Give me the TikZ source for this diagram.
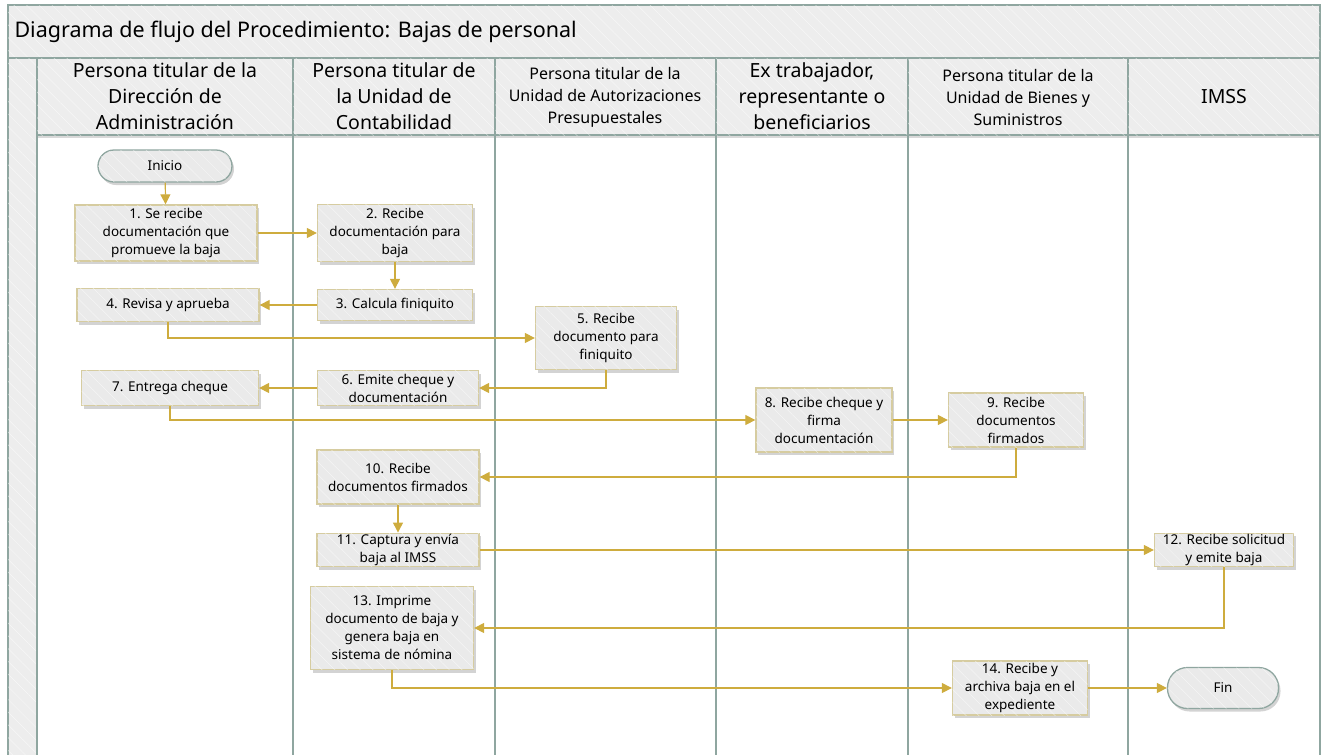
\documentclass[tikz,border=0pt]{standalone}
\usepackage{fontspec}
\setmainfont{Noto Sans}
\usetikzlibrary{shadows,arrows.meta,patterns.meta}

\definecolor{gold}{RGB}{206,172,62}
\definecolor{laneline}{RGB}{143,166,160}
\definecolor{boxfill}{RGB}{234,234,234}
\definecolor{boxline}{RGB}{214,204,160}
\definecolor{band}{RGB}{237,237,237}

\begin{document}
\begin{tikzpicture}[x=1pt,y=1pt,yscale=-1,xscale=1,
	hatch/.style={postaction={pattern={Lines[angle=-45,distance=9pt,line width=0.5pt]}, pattern color=white, opacity=0.55}},
	proc/.style={draw=boxline, line width=1.3pt, fill=boxfill, hatch, align=center, inner sep=1pt,
		font=\fontsize{13.5}{18}\selectfont,
		drop shadow={shadow xshift=2pt, shadow yshift=-3pt, opacity=0.35}},
	term/.style={proc, draw=laneline, rounded corners=16pt},
	head/.style={align=center, font=\fontsize{19.5}{26}\selectfont},
	headsmall/.style={align=center, font=\fontsize{16}{22}\selectfont},
	flow/.style={draw=gold, line width=1.2pt, -{Triangle[length=10pt,width=10pt]}}]

		% Set diagram size to the reference
		\useasboundingbox (0,0) rectangle (1323,755);

		% Title band
		\draw[laneline, line width=1.2pt, fill=band, hatch] (8,5) rectangle (1320,58);
		\node[anchor=west, font=\fontsize{21.5}{26}\selectfont] (titulo) at (11,32) {Diagrama de flujo del Procedimiento: Bajas de personal};

		% Left strip of the pool
		\draw[laneline, line width=1.2pt, fill=band, hatch] (8,58) rectangle (37,760);

		% Lane headers
		\foreach \xa/\xb in {37/293, 293/495, 495/716, 716/908, 908/1128, 1128/1320}{
			\draw[laneline, line width=1.2pt, fill=band, hatch, drop shadow={shadow xshift=0pt, shadow yshift=-3pt, opacity=0.3}] (\xa,58) rectangle (\xb,135);
			\draw[laneline, line width=1.2pt] (\xa,135) -- (\xa,760);
		}
		\draw[laneline, line width=1.2pt] (1320,58) -- (1320,760);

		% Lane names
		\node[head] (dir) at (165,96) {Persona titular de la\\Dirección de\\Administración};
		\node[head] (cont) at (394,96) {Persona titular de\\la Unidad de\\Contabilidad};
		\node[headsmall] (aut) at (605,97) {Persona titular de la\\Unidad de Autorizaciones\\Presupuestales};
		\node[head] (ext) at (812,96) {Ex trabajador,\\representante o\\beneficiarios};
		\node[headsmall] (bie) at (1018,97) {Persona titular de la\\Unidad de Bienes y\\Suministros};
		\node[head] (imss) at (1224,97) {IMSS};

		% Steps
		\node[term, minimum width=134, minimum height=32] (inicio) at (165,166) {Inicio};
		\node[proc, minimum width=182, minimum height=56] (p1) at (166,233) {1. Se recibe\\documentación que\\promueve la baja};
		\node[proc, minimum width=155, minimum height=57] (p2) at (395,233) {2. Recibe\\documentación para\\baja};
		\node[proc, minimum width=155, minimum height=31] (p3) at (395,305) {3. Calcula finiquito};
		\node[proc, minimum width=182, minimum height=33] (p4) at (168,305) {4. Revisa y aprueba};
		\node[proc, minimum width=141, minimum height=63] (p5) at (606,338) {5. Recibe\\documento para\\finiquito};
		\node[proc, minimum width=161, minimum height=35] (p6) at (398,388) {6. Emite cheque y\\documentación};
		\node[proc, minimum width=177, minimum height=35] (p7) at (170,388) {7. Entrega cheque};
		\node[proc, minimum width=136, minimum height=64] (p8) at (824,420) {8. Recibe cheque y\\firma\\documentación};
		\node[proc, minimum width=135, minimum height=54] (p9) at (1016,420) {9. Recibe\\documentos\\firmados};
		\node[proc, minimum width=162, minimum height=54] (p10) at (398,477) {10. Recibe\\documentos firmados};
		\node[proc, minimum width=162, minimum height=33] (p11) at (398,550) {11. Captura y envía\\baja al IMSS};
		\node[proc, minimum width=139, minimum height=32] (p12) at (1224,550) {12. Recibe solicitud\\y emite baja};
		\node[proc, minimum width=163, minimum height=83] (p13) at (392,628) {13. Imprime\\documento de baja y\\genera baja en\\sistema de nómina};
		\node[proc, minimum width=135, minimum height=54] (p14) at (1020,688) {14. Recibe y\\archiva baja en el\\expediente};
		\node[term, minimum width=111, minimum height=41, rounded corners=20pt] (fin) at (1223,688) {Fin};

		% Connectors
		\draw[flow] (inicio) -- (p1);
		\draw[flow] (p1) -- (p2);
		\draw[flow] (p2) -- (p3);
		\draw[flow] (p3) -- (p4);
		\draw[flow] (p4.south) |- (p5);
		\draw[flow] (p5.south) |- (p6);
		\draw[flow] (p6) -- (p7);
		\draw[flow] (p7.south) |- (p8);
		\draw[flow] (p8) -- (p9);
		\draw[flow] (p9.south) |- (p10);
		\draw[flow] (p10) -- (p11);
		\draw[flow] (p11) -- (p12);
		\draw[flow] (p12.south) |- (p13);
		\draw[flow] (p13.south) |- (p14);
		\draw[flow] (p14) -- (fin);
	\end{tikzpicture}
\end{document}
